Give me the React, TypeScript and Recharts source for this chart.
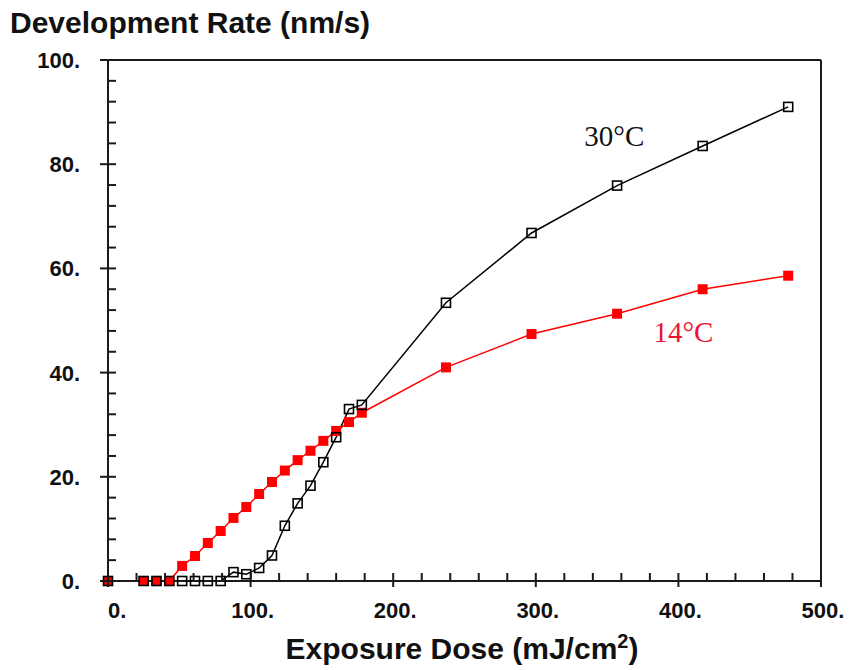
import React from 'react'
import { LineChart, Line, XAxis, YAxis, ReferenceDot } from 'recharts'

// exposure dose (mJ/cm2) shared by both series
const doses = [0, 25, 34, 43, 52, 61, 70, 79, 88, 97, 106, 115, 124, 133, 142, 151, 160, 169, 178, 237, 297, 357, 417, 477]
// development rate (nm/s)
const rate14 = [0, 0, 0, 0, 2.9, 4.8, 7.3, 9.6, 12.1, 14.2, 16.7, 19.0, 21.2, 23.2, 25.0, 26.9, 28.8, 30.5, 32.3, 41.0, 47.4, 51.3, 56.0, 58.6]
const rate30 = [0, 0, 0, 0, 0, 0, 0, 0, 1.7, 1.3, 2.5, 4.9, 10.6, 14.9, 18.3, 22.8, 27.6, 33.0, 33.8, 53.4, 66.8, 75.9, 83.5, 91.0]

const xTicks = Array.from({ length: 26 }, (_, i) => i * 20)
const yTicks = Array.from({ length: 26 }, (_, i) => i * 4)
const xMajor = [0, 100, 200, 300, 400, 500]
const yMajor = [0, 20, 40, 60, 80, 100]

const data = doses.map((d, i) => ({ dose: d, r14: rate14[i], r30: rate30[i] }))

const RED = '#ff0000'
const INK = '#1a1a1a'
const SANS = '"Liberation Sans", Arial, sans-serif'
const SERIF = '"Liberation Serif", "Times New Roman", serif'

const LeftTick = ({ x, y, payload }: any) => {
    const major = yMajor.includes(payload.value)
    return (
        <g>
            <line x1={major ? x - 8 : x} x2={x + 8} y1={y} y2={y} stroke={INK} strokeWidth={2} />
            {major && (
                <text x={x - 28} y={y + 8} textAnchor="end" fontFamily={SANS} fontWeight="bold" fontSize={22} fill="#111">
                    {payload.value}.
                </text>
            )}
        </g>
    )
}

const RightTick = ({ x, y, payload }: any) => {
    const major = yMajor.includes(payload.value)
    return <line x1={x - 8} x2={major ? x + 6 : x} y1={y} y2={y} stroke={INK} strokeWidth={2} />
}

const BottomTick = ({ x, y, payload }: any) => {
    const major = xMajor.includes(payload.value)
    return (
        <g>
            <line x1={x} x2={x} y1={y - 8} y2={major ? y + 6 : y} stroke={INK} strokeWidth={2} />
            {major && (
                <text
                    x={payload.value === 0 ? x : x + 2}
                    y={y + 37}
                    textAnchor={payload.value === 0 ? 'start' : 'middle'}
                    fontFamily={SANS}
                    fontWeight="bold"
                    fontSize={22}
                    fill="#111"
                >
                    {payload.value}.
                </text>
            )}
        </g>
    )
}

const redSquare = (p: any) => (
    <rect key={`r-${p.index}`} x={p.cx - 5} y={p.cy - 5} width={10} height={10} fill={RED} />
)
const openSquare = (p: any) => (
    <rect key={`b-${p.index}`} x={p.cx - 4.5} y={p.cy - 4.5} width={9} height={9} fill="none" stroke="#000" strokeWidth={1.6} />
)

const annoText = (label: string, color: string) => (p: any) => (
    <text x={p.cx} y={p.cy} fontFamily={SERIF} fontSize={29} fill={color}>{label}</text>
)

export default function App() {
    return (
        <div style={{ position: 'absolute', left: 0, top: 0, width: 849, height: 670, background: '#fff' }}>
            <LineChart width={849} height={670} data={data} margin={{ top: 40, right: 8, bottom: 49, left: 48 }}>
                <XAxis
                    dataKey="dose"
                    type="number"
                    domain={[0, 500]}
                    ticks={xTicks}
                    interval={0}
                    height={40}
                    tickSize={0}
                    tickMargin={0}
                    tickLine={false}
                    axisLine={{ stroke: INK, strokeWidth: 2 }}
                    tick={<BottomTick />}
                />
                <XAxis
                    xAxisId="top"
                    orientation="top"
                    type="number"
                    domain={[0, 500]}
                    height={20}
                    tick={false}
                    tickLine={false}
                    axisLine={{ stroke: INK, strokeWidth: 2 }}
                />
                <YAxis
                    type="number"
                    domain={[0, 100]}
                    ticks={yTicks}
                    interval={0}
                    width={60}
                    tickSize={0}
                    tickMargin={0}
                    tickLine={false}
                    axisLine={{ stroke: INK, strokeWidth: 2 }}
                    tick={<LeftTick />}
                />
                <YAxis
                    yAxisId="right"
                    orientation="right"
                    type="number"
                    domain={[0, 100]}
                    ticks={yTicks}
                    interval={0}
                    width={20}
                    tickSize={0}
                    tickMargin={0}
                    tickLine={false}
                    axisLine={{ stroke: INK, strokeWidth: 2 }}
                    tick={<RightTick />}
                />
                <Line dataKey="r14" stroke={RED} strokeWidth={1.5} dot={redSquare} activeDot={false} isAnimationActive={false} />
                <Line dataKey="r30" stroke="#000" strokeWidth={1.5} dot={openSquare} activeDot={false} isAnimationActive={false} />
                <ReferenceDot x={334} y={83.5} r={0} ifOverflow="visible" shape={annoText('30°C', '#111')} />
                <ReferenceDot x={382.5} y={45.9} r={0} ifOverflow="visible" shape={annoText('14°C', '#ee1133')} />
            </LineChart>
            <svg width={849} height={670} style={{ position: 'absolute', left: 0, top: 0, pointerEvents: 'none' }}>
                <text x={10} y={33} fontFamily={SANS} fontWeight="bold" fontSize={30} fill="#111">
                    Development Rate (nm/s)
                </text>
                <text x={462} y={659} textAnchor="middle" fontFamily={SANS} fontWeight="bold" fontSize={30} fill="#111">
                    Exposure Dose (mJ/cm<tspan fontSize={20} dy={-11}>2</tspan><tspan dy={11}>)</tspan>
                </text>
            </svg>
        </div>
    )
}
